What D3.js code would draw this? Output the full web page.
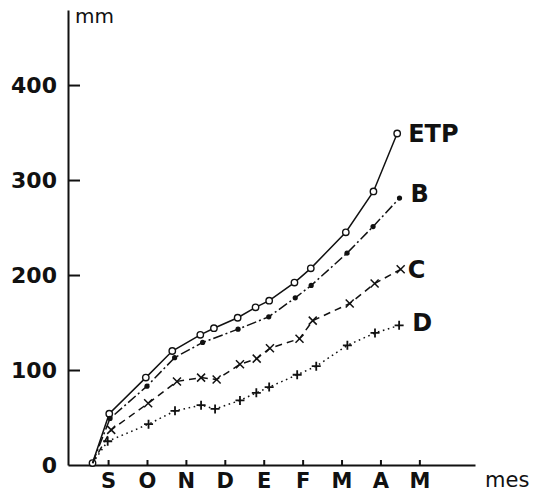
<!DOCTYPE html>
<html>
<head>
<meta charset="utf-8">
<script src="https://cdn.jsdelivr.net/npm/d3@7"></script>
<style>
  html, body { margin: 0; padding: 0; background: #fff; }
  svg { display: block; }
  text { font-family: "DejaVu Sans", sans-serif; fill: #111; }
</style>
</head>
<body>
<svg id="chart" width="536" height="496"></svg>
<script>
// Month ticks (Sept .. May) and y ticks in mm
const months = ["S", "O", "N", "D", "E", "F", "M", "A", "M"];
const yTicks = [0, 100, 200, 300, 400];

// Cumulative water use (mm) against time in months (S = 1)
const etpX = [0.6, 1.03, 1.97, 2.65, 3.37, 3.72, 4.33, 4.79, 5.14, 5.79, 6.21, 7.11, 7.82, 8.43];
const etpY = [2, 54, 92, 120, 137, 144, 155, 166, 173, 192, 207, 245, 288, 349];

const bX = [0.6, 1.05, 2.0, 2.71, 3.43, 4.34, 5.13, 5.81, 6.22, 7.14, 7.81, 8.49];
const bY = [2, 49, 83, 113, 129, 143, 156, 176, 189, 223, 251, 281];

const cX = [0.6, 1.08, 2.03, 2.77, 3.39, 3.79, 4.39, 4.82, 5.16, 5.92, 6.26, 7.21, 7.85, 8.52];
const cY = [2, 37, 65, 88, 92, 90, 106, 112, 123, 133, 152, 170, 191, 206];

const dX = [0.6, 0.99, 2.04, 2.72, 3.39, 3.75, 4.39, 4.81, 5.14, 5.86, 6.35, 7.15, 7.86, 8.48];
const dY = [2, 25, 43, 57, 63, 59, 68, 76, 82, 95, 104, 126, 139, 147];

const seriesNames = ["ETP", "B", "C", "D"];

const svg = d3.select("#chart");

const x = d3.scaleLinear().domain([-0.03, 10.43]).range([68, 475]);
const y = d3.scaleLinear().domain([0, 479]).range([465, 10]);

// y axis: ticks point inward, labels on the left
const yAxis = svg.append("g")
  .attr("transform", `translate(${x(-0.03)},0)`)
  .call(d3.axisLeft(y).tickValues(yTicks).tickSize(-12).tickSizeOuter(0).tickPadding(11));
yAxis.select(".domain").attr("stroke", "#111").attr("stroke-width", 2);
yAxis.selectAll(".tick line").attr("stroke", "#111").attr("stroke-width", 2);
yAxis.selectAll(".tick").filter(d => d === 0).select("line").remove();
yAxis.selectAll("text")
  .attr("font-size", 22).attr("font-weight", "bold")
  .style("font-family", "'DejaVu Sans', sans-serif").attr("fill", "#111");

// x axis: short upward ticks at each month
const xAxis = svg.append("g")
  .attr("transform", `translate(0,${y(0)})`)
  .call(d3.axisBottom(x).tickValues(d3.range(1, months.length + 1))
    .tickFormat((d, i) => months[i]).tickSize(-5).tickSizeOuter(0).tickPadding(8));
xAxis.select(".domain").attr("stroke", "#111").attr("stroke-width", 2);
xAxis.selectAll(".tick line").attr("stroke", "#111").attr("stroke-width", 2);
xAxis.selectAll("text")
  .attr("font-size", 21).attr("font-weight", "bold")
  .style("font-family", "'DejaVu Sans', sans-serif").attr("fill", "#111");

// Axis unit labels
svg.append("text").attr("x", 75).attr("y", 23).attr("font-size", 20).text("mm");
svg.append("text").attr("x", 485).attr("y", 487).attr("font-size", 21).text("mes");

const series = [
  { name: seriesNames[0], xs: etpX, ys: etpY, dash: null, marker: "circle", dx: 11, dy: 9 },
  { name: seriesNames[1], xs: bX, ys: bY, dash: "10,3,2,3", marker: "dot", dx: 11, dy: 4 },
  { name: seriesNames[2], xs: cX, ys: cY, dash: "7,5", marker: "x", dx: 7, dy: 9 },
  { name: seriesNames[3], xs: dX, ys: dY, dash: "1.6,3.6", marker: "plus", dx: 13, dy: 6 }
];

const line = d3.line().x(d => x(d[0])).y(d => y(d[1]));

series.forEach(s => {
  const pts = s.xs.map((v, i) => [v, s.ys[i]]);
  const g = svg.append("g");
  g.append("path")
    .attr("d", line(pts))
    .attr("fill", "none")
    .attr("stroke", "#111")
    .attr("stroke-width", 1.5)
    .attr("stroke-dasharray", s.dash);

  const mk = pts.slice(s.marker === "circle" ? 0 : 1);
  if (s.marker === "circle") {
    g.selectAll("circle").data(mk).join("circle")
      .attr("cx", d => x(d[0])).attr("cy", d => y(d[1])).attr("r", 3.2)
      .attr("fill", "#fff").attr("stroke", "#111").attr("stroke-width", 1.4);
  } else if (s.marker === "dot") {
    g.selectAll("circle").data(mk).join("circle")
      .attr("cx", d => x(d[0])).attr("cy", d => y(d[1])).attr("r", 2.6)
      .attr("fill", "#111");
  } else if (s.marker === "x") {
    g.selectAll("path.m").data(mk).join("path").attr("class", "m")
      .attr("d", d => { const px = x(d[0]), py = y(d[1]), r = 4;
        return `M${px - r},${py - r}L${px + r},${py + r}M${px - r},${py + r}L${px + r},${py - r}`; })
      .attr("stroke", "#111").attr("stroke-width", 1.5).attr("fill", "none");
  } else {
    g.selectAll("path.m").data(mk).join("path").attr("class", "m")
      .attr("d", d => { const px = x(d[0]), py = y(d[1]), r = 4.5;
        return `M${px - r},${py}L${px + r},${py}M${px},${py - r}L${px},${py + r}`; })
      .attr("stroke", "#111").attr("stroke-width", 1.8).attr("fill", "none");
  }

  const last = pts[pts.length - 1];
  svg.append("text")
    .attr("x", x(last[0]) + s.dx)
    .attr("y", y(last[1]) + s.dy)
    .attr("font-size", 24).attr("font-weight", "bold")
    .text(s.name);
});
</script>
</body>
</html>
